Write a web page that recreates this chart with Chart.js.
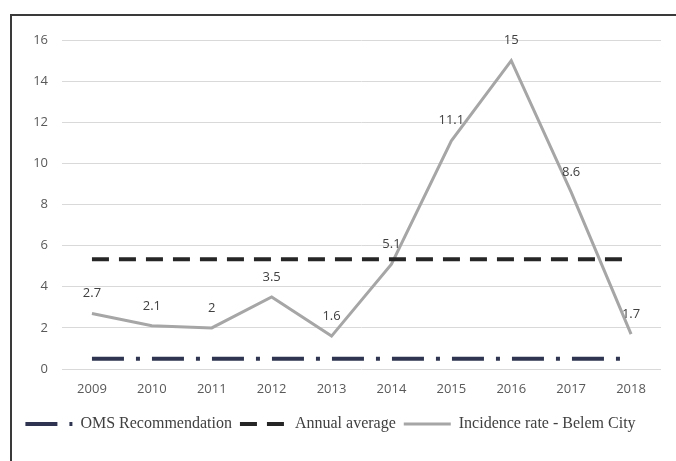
<!DOCTYPE html>
<html>
<head>
<meta charset="utf-8">
<script src="https://cdn.jsdelivr.net/npm/chart.js@4"></script>
<style>
  html, body { margin: 0; padding: 0; background: #fff; overflow: hidden; }
  #wrap { position: relative; width: 676px; height: 461px; }
  #frame { position: absolute; left: 10px; top: 14px; width: 720px; height: 520px; border-left: 2px solid #3a3a3a; border-top: 2px solid #3a3a3a; }
  canvas { position: absolute; left: 0; top: 0; }
  .preload { position: absolute; left: -999px; top: 0; }
</style>
</head>
<body>
<div id="wrap">
  <div id="frame"></div>
  <canvas id="chart" width="676" height="461"></canvas>
</div>
<span class="preload" style="font-family: 'Liberation Serif'">OMS</span>
<span class="preload" style="font-family: 'Open Sans'">2009</span>
<script>
// Dados
const years = ['2009', '2010', '2011', '2012', '2013', '2014', '2015', '2016', '2017', '2018'];
const incidence = [2.7, 2.1, 2, 3.5, 1.6, 5.1, 11.1, 15, 8.6, 1.7];
const annualAverage = [5.34, 5.34, 5.34, 5.34, 5.34, 5.34, 5.34, 5.34, 5.34, 5.34];
const omsRecommendation = [0.5, 0.5, 0.5, 0.5, 0.5, 0.5, 0.5, 0.5, 0.5, 0.5];
const yMin = 0;
const yMax = 16;
const yStep = 2;

const tickColor = '#595959';
const tickFont = { family: "'Open Sans', sans-serif", size: 13 };

// Rótulos acima dos pontos da série de incidência
const pointLabels = {
  id: 'pointLabels',
  afterDatasetsDraw(chart) {
    const meta = chart.getDatasetMeta(2);
    const { ctx } = chart;
    ctx.save();
    ctx.font = "13px 'Open Sans', sans-serif";
    ctx.fillStyle = '#404040';
    ctx.textAlign = 'center';
    ctx.textBaseline = 'middle';
    meta.data.forEach((pt, i) => ctx.fillText(String(incidence[i]), pt.x, pt.y - 20));
    ctx.restore();
  },
};

// Legenda com o tracejado de cada linha
const legendLabels = (chart) => {
  const items = Chart.defaults.plugins.legend.labels.generateLabels(chart);
  return items.map((item) => {
    const ds = chart.data.datasets[item.datasetIndex];
    return { ...item, lineDash: ds.borderDash ?? [], lineWidth: ds.borderWidth, strokeStyle: ds.borderColor };
  });
};

const draw = () => new Chart(document.getElementById('chart'), {
  type: 'line',
  data: {
    labels: years,
    datasets: [
      {
        label: 'OMS Recommendation',
        data: omsRecommendation,
        borderColor: '#2f3550',
        backgroundColor: '#2f3550',
        borderWidth: 4,
        borderDash: [32, 12, 4, 12],
        pointRadius: 0,
      },
      {
        label: 'Annual average',
        data: annualAverage,
        borderColor: '#262626',
        backgroundColor: '#262626',
        borderWidth: 4,
        borderDash: [17, 10],
        pointRadius: 0,
      },
      {
        label: 'Incidence rate - Belem City',
        data: incidence,
        borderColor: '#a6a6a6',
        backgroundColor: '#a6a6a6',
        borderWidth: 3,
        pointRadius: 0,
        tension: 0,
      },
    ],
  },
  options: {
    responsive: false,
    animation: false,
    layout: { padding: { top: 40, right: 15, left: 0, bottom: 19 } },
    plugins: {
      legend: {
        position: 'bottom',
        labels: {
          usePointStyle: true,
          pointStyle: 'line',
          pointStyleWidth: 47,
          padding: 8,
          color: '#404040',
          font: { family: "'Liberation Serif', 'Times New Roman', serif", size: 16 },
          generateLabels: legendLabels,
        },
      },
      tooltip: { enabled: false },
    },
    scales: {
      x: {
        offset: true,
        grid: { display: false },
        border: { display: false },
        ticks: { padding: 4, color: tickColor, font: tickFont },
        afterFit: (s) => { s.height = 39; },
      },
      y: {
        min: yMin,
        max: yMax,
        ticks: { stepSize: yStep, padding: 14, color: tickColor, font: tickFont },
        grid: { color: '#d9d9d9', drawTicks: false },
        border: { display: false },
        afterFit: (s) => { s.width = 62; },
      },
    },
  },
  plugins: [pointLabels],
});

if (document.fonts && document.fonts.load) {
  Promise.all([
    document.fonts.load("16px 'Liberation Serif'"),
    document.fonts.load("13px 'Open Sans'"),
  ]).then(draw, draw);
} else {
  draw();
}
</script>
</body>
</html>
